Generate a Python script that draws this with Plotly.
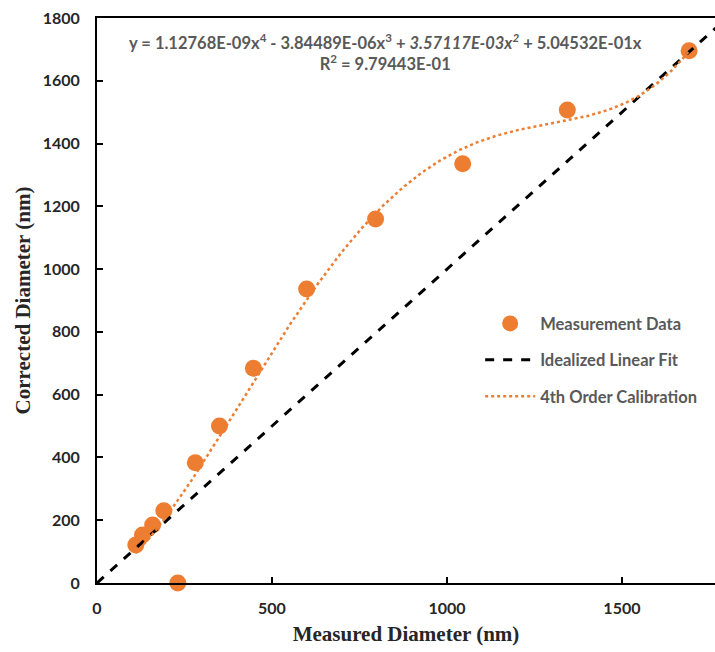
import numpy as np
import plotly.graph_objects as go

# Data
measured = [111, 130, 159, 191, 231, 281, 350, 447, 599, 796, 1045, 1344, 1692]
corrected = [121, 153, 185, 230, 0, 383, 500, 684, 937, 1160, 1336, 1507, 1696]

# 4th order calibration coefficients (from the chart's equation), highest power first
poly_coeffs = [1.12768e-09, -3.84489e-06, 3.57117e-03, 5.04532e-01, 0.0]
ideal_x = [0, 1800]
ideal_y = [0, 1800]

x_tick_vals = [0, 500, 1000, 1500]
y_tick_vals = [0, 200, 400, 600, 800, 1000, 1200, 1400, 1600, 1800]

ORANGE = "#ED7D31"
TEXT_GREY = "#595959"
SANS = "Lato, 'Open Sans', sans-serif"
SERIF = "'Liberation Serif', 'Times New Roman', serif"

fit_x = np.linspace(min(measured), max(measured), 300)
fit_y = np.polyval(poly_coeffs, fit_x)

fig = go.Figure()
fig.add_trace(go.Scatter(
    x=measured, y=corrected, mode="markers", name="Measurement Data",
    marker=dict(color=ORANGE, size=17, line=dict(width=0)),
    legendgroup="a", cliponaxis=False))
fig.add_trace(go.Scatter(
    x=ideal_x, y=ideal_y, mode="lines", name="Idealized Linear Fit",
    line=dict(color="black", width=3, dash="dash"), legendgroup="b"))
fig.add_trace(go.Scatter(
    x=fit_x, y=fit_y, mode="lines", name="4th Order Calibration",
    line=dict(color=ORANGE, width=2.5, dash="dot"), legendgroup="c"))

fig.update_layout(
    width=715, height=652,
    margin=dict(l=97, r=0, t=18, b=69),
    plot_bgcolor="white", paper_bgcolor="white",
    showlegend=True,
    legend=dict(x=0.62, y=0.49, xanchor="left", yanchor="top",
                font=dict(family=SANS, size=16.5, color=TEXT_GREY, weight="bold"),
                bgcolor="rgba(0,0,0,0)", tracegroupgap=12,
                traceorder="grouped", itemwidth=50),
    xaxis=dict(range=[0, 1766], tickvals=x_tick_vals, ticks="inside", ticklen=6,
               tickcolor="black", tickwidth=1.5, ticklabelstandoff=10,
               showline=True, linecolor="black", linewidth=2, mirror=True,
               showgrid=False, zeroline=False,
               tickfont=dict(family=SANS, size=16, color="#262626", weight="bold"),
               title=dict(text="Measured Diameter (nm)",
                          font=dict(family=SERIF, size=21, color="#262626", weight="bold"),
                          standoff=10)),
    yaxis=dict(range=[0, 1800], tickvals=y_tick_vals, ticks="inside", ticklen=6,
               tickcolor="black", tickwidth=1.5, ticklabelstandoff=12,
               showline=True, linecolor="black", linewidth=2, mirror=False,
               showgrid=False, zeroline=False,
               tickfont=dict(family=SANS, size=16, color="#262626", weight="bold"),
               title=dict(text="Corrected Diameter (nm)",
                          font=dict(family=SERIF, size=21, color="#262626", weight="bold"),
                          standoff=6)),
)

fig.add_annotation(
    xref="paper", yref="paper", x=(385 - 97) / 618, y=1 - (52 - 18) / 565,
    text=("y = 1.12768E-09x<sup>4</sup> - 3.84489E-06x<sup>3</sup> + "
          "<i>3.57117E-03x<sup>2</sup></i> + 5.04532E-01x<br>"
          "R<sup>2</sup> = 9.79443E-01"),
    showarrow=False, xanchor="center", yanchor="middle", align="center",
    font=dict(family=SANS, size=16.5, color=TEXT_GREY, weight="bold"))

fig.write_html("out.html")
